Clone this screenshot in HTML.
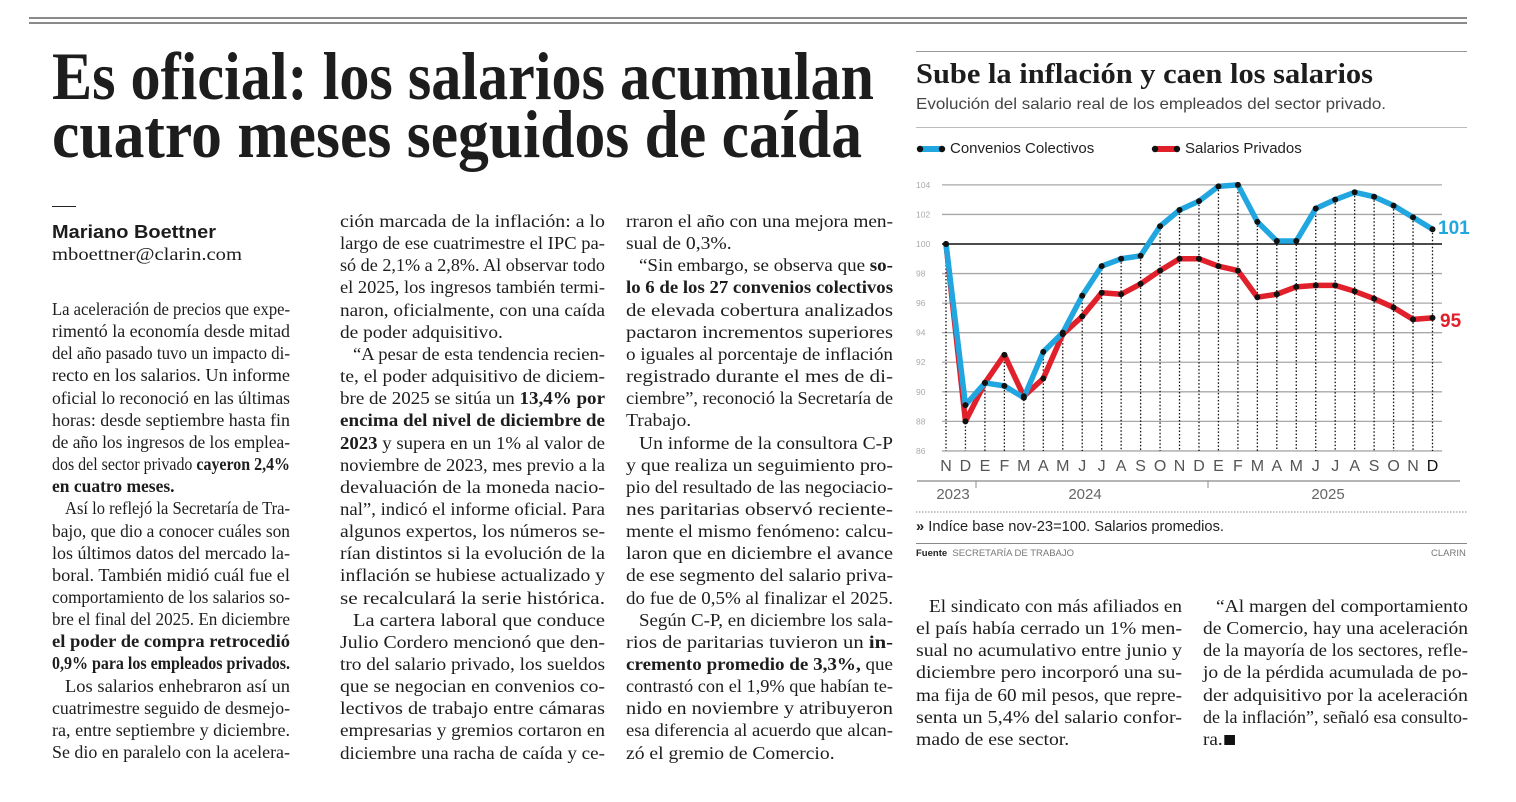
<!DOCTYPE html>
<html><head><meta charset="utf-8"><style>
html,body{margin:0;padding:0;background:#fff;}
body{width:1516px;height:802px;position:relative;overflow:hidden;font-family:"Liberation Serif",serif;color:#1d1d1d;}
.ab{position:absolute;white-space:nowrap;transform-origin:0 0;}
.l{position:absolute;white-space:nowrap;transform-origin:0 0;font-size:18px;line-height:22px;}
.l span{display:inline-block;}
.sans{font-family:"Liberation Sans",sans-serif;}
</style></head><body>
<div class="ab" style="left:29px;top:17px;width:1438px;height:2px;background:#8a8a8a"></div>
<div class="ab" style="left:29px;top:22px;width:1438px;height:2px;background:#8a8a8a"></div>

<div class="ab fit" style="left:52px;top:42px;font-size:68px;line-height:68px;font-weight:bold;--w:822" >Es oficial: los salarios acumulan</div>
<div class="ab fit" style="left:52px;top:100px;font-size:68px;line-height:68px;font-weight:bold;--w:810">cuatro meses seguidos de caída</div>

<div class="ab" style="left:52px;top:206px;width:24px;height:1px;background:#222"></div>
<div class="ab sans fit" style="left:52px;top:221px;font-size:18px;line-height:22px;font-weight:bold;--w:164">Mariano Boettner</div>
<div class="ab fit" style="left:52px;top:243px;font-size:18px;line-height:22px;--w:190">mboettner@clarin.com</div>

<!-- chart texts -->
<div class="ab" style="left:916px;top:51px;width:551px;height:1px;background:#999"></div>
<div class="ab fit" style="left:916px;top:60px;font-size:28px;line-height:30px;font-weight:bold;--w:457">Sube la inflación y caen los salarios</div>
<div class="ab sans fit" style="left:916px;top:95px;font-size:16px;line-height:20px;color:#444;--w:470">Evolución del salario real de los empleados del sector privado.</div>
<div class="ab" style="left:916px;top:127px;width:551px;height:1px;background:#bbb"></div>
<div class="ab sans" style="left:950px;top:140px;font-size:15px;line-height:18px;color:#222">Convenios Colectivos</div>
<div class="ab sans" style="left:1185px;top:140px;font-size:15px;line-height:18px;color:#222">Salarios Privados</div>
<div class="ab sans fit" style="left:916px;top:518px;font-size:15px;line-height:18px;color:#222;--w:308"><b>»</b> Indíce base nov-23=100. Salarios promedios.</div>
<div class="ab" style="left:916px;top:543px;width:551px;height:1px;background:#888"></div>
<div class="ab sans" style="left:916px;top:548px;font-size:9.5px;line-height:12px;color:#777"><b style="color:#222">Fuente</b>&nbsp; SECRETARÍA DE TRABAJO</div>
<div class="ab sans" style="left:1431px;top:548px;font-size:9.5px;line-height:12px;color:#777">CLARIN</div>

<svg id="ch" class="ab" style="left:0;top:0" width="1516" height="802" xmlns="http://www.w3.org/2000/svg"></svg>

<div id="cols"></div>

<script>
(function(){
var s=document.getElementById('ch'),h='';
function Y(v){return 244-(v-100)*14.78;}
function X(i){return 946+i*19.46;}
for(var v=86;v<=104;v+=2){
 var y=Y(v);
 h+='<line x1="942" x2="1442" y1="'+y+'" y2="'+y+'" stroke="'+(v==100?'#111':'#a8a8a8')+'" stroke-width="'+(v==100?1.6:1.3)+'"/>';
 h+='<text x="916" y="'+(y+3)+'" font-family="Liberation Sans" font-size="8.5" fill="#aaa">'+v+'</text>';
}
var B=[100,89.1,90.6,90.4,89.6,92.7,94.0,96.5,98.5,99.0,99.2,101.2,102.3,102.9,103.9,104.0,101.5,100.2,100.2,102.4,103.0,103.5,103.2,102.6,101.8,101.0];
var R=[100,88.0,90.6,92.5,89.7,90.9,93.9,95.1,96.7,96.6,97.3,98.2,99.0,99.0,98.5,98.2,96.4,96.6,97.1,97.2,97.2,96.8,96.3,95.7,94.9,95.0];
var M="NDEFMAMJJASONDEFMAMJJASOND";
for(var i=0;i<26;i++){
 var top=Math.min(Y(B[i]),Y(R[i]));
 h+='<line x1="'+X(i)+'" x2="'+X(i)+'" y1="'+top+'" y2="451" stroke="#111" stroke-width="1.3" stroke-dasharray="1.5,2"/>';
 h+='<text x="'+X(i)+'" y="471" text-anchor="middle" font-family="Liberation Sans" font-size="16" fill="'+(i==25?'#111':'#555')+'">'+M[i]+'</text>';
}
function pl(a,c){var p='';for(var i=0;i<a.length;i++)p+=X(i)+','+Y(a[i])+' ';return '<polyline points="'+p+'" fill="none" stroke="'+c+'" stroke-width="5.5" stroke-linejoin="round"/>';}
h+=pl(R,'#e0202b');h+=pl(B,'#21a6e0');
for(var i=0;i<26;i++){h+='<circle cx="'+X(i)+'" cy="'+Y(R[i])+'" r="3" fill="#111"/><circle cx="'+X(i)+'" cy="'+Y(B[i])+'" r="3" fill="#111"/>';}
h+='<text x="1438" y="234" font-family="Liberation Sans" font-size="19" font-weight="bold" fill="#21a6e0">101</text>';
h+='<text x="1440" y="327" font-family="Liberation Sans" font-size="19" font-weight="bold" fill="#e0202b">95</text>';
h+='<line x1="917" x2="1460" y1="481" y2="481" stroke="#888" stroke-width="1.3"/>';
h+='<line x1="976" x2="976" y1="481" y2="488" stroke="#888"/><line x1="1208" x2="1208" y1="481" y2="488" stroke="#888"/>';
h+='<text x="953" y="499" text-anchor="middle" font-family="Liberation Sans" font-size="15" fill="#666">2023</text>';
h+='<text x="1085" y="499" text-anchor="middle" font-family="Liberation Sans" font-size="15" fill="#666">2024</text>';
h+='<text x="1328" y="499" text-anchor="middle" font-family="Liberation Sans" font-size="15" fill="#666">2025</text>';
h+='<line x1="916" x2="1467" y1="512" y2="512" stroke="#888" stroke-dasharray="1.5,1.5"/>';
h+='<line x1="920" x2="942" y1="149" y2="149" stroke="#21a6e0" stroke-width="6"/><circle cx="920" cy="149" r="3.2" fill="#111"/><circle cx="942" cy="149" r="3.2" fill="#111"/>';
h+='<line x1="1155" x2="1177" y1="149" y2="149" stroke="#e0202b" stroke-width="6"/><circle cx="1155" cy="149" r="3.2" fill="#111"/><circle cx="1177" cy="149" r="3.2" fill="#111"/>';
s.innerHTML=h;

var cols=[
{x:52,w:238,y:298,L:[
"La aceleración de precios que expe-","rimentó la economía desde mitad","del año pasado tuvo un impacto di-","recto en los salarios. Un informe","oficial lo reconoció en las últimas","horas: desde septiembre hasta fin","de año los ingresos de los emplea-","dos del sector privado <b>cayeron 2,4%</b>","<b>en cuatro meses.</b>|",
">Así lo reflejó la Secretaría de Tra-","bajo, que dio a conocer cuáles son","los últimos datos del mercado la-","boral. También midió cuál fue el","comportamiento de los salarios so-","bre el final del 2025. En diciembre","<b>el poder de compra retrocedió</b>","<b>0,9% para los empleados privados.</b>",
">Los salarios enhebraron así un","cuatrimestre seguido de desmejo-","ra, entre septiembre y diciembre.","Se dio en paralelo con la acelera-"]},
{x:340,w:265,y:210,L:[
"ción marcada de la inflación: a lo","largo de ese cuatrimestre el IPC pa-","só de 2,1% a 2,8%. Al observar todo","el 2025, los ingresos también termi-","naron, oficialmente, con una caída","de poder adquisitivo.|",
">“A pesar de esta tendencia recien-","te, el poder adquisitivo de diciem-","bre de 2025 se sitúa un <b>13,4% por</b>","<b>encima del nivel de diciembre de</b>","<b>2023</b> y supera en un 1% al valor de","noviembre de 2023, mes previo a la","devaluación de la moneda nacio-","nal”, indicó el informe oficial. Para","algunos expertos, los números se-","rían distintos si la evolución de la","inflación se hubiese actualizado y","se recalculará la serie histórica.",
">La cartera laboral que conduce","Julio Cordero mencionó que den-","tro del salario privado, los sueldos","que se negocian en convenios co-","lectivos de trabajo entre cámaras","empresarias y gremios cortaron en","diciembre una racha de caída y ce-"]},
{x:626,w:267,y:210,L:[
"rraron el año con una mejora men-","sual de 0,3%.|",
">“Sin embargo, se observa que <b>so-</b>","<b>lo 6 de los 27 convenios colectivos</b>","de elevada cobertura analizados","pactaron incrementos superiores","o iguales al porcentaje de inflación","registrado durante el mes de di-","ciembre”, reconoció la Secretaría de","Trabajo.|",
">Un informe de la consultora C-P","y que realiza un seguimiento pro-","pio del resultado de las negociacio-","nes paritarias observó reciente-","mente el mismo fenómeno: calcu-","laron que en diciembre el avance","de ese segmento del salario priva-","do fue de 0,5% al finalizar el 2025.",
">Según C-P, en diciembre los sala-","rios de paritarias tuvieron un <b>in-</b>","<b>cremento promedio de 3,3%,</b> que","contrastó con el 1,9% que habían te-","nido en noviembre y atribuyeron","esa diferencia al acuerdo que alcan-","zó el gremio de Comercio.|"]},
{x:916,w:266,y:595,L:[
">El sindicato con más afiliados en","el país había cerrado un 1% men-","sual no acumulativo entre junio y","diciembre pero incorporó una su-","ma fija de 60 mil pesos, que repre-","senta un 5,4% del salario confor-","mado de ese sector.|"]},
{x:1203,w:265,y:595,L:[
">“Al margen del comportamiento","de Comercio, hay una aceleración","de la mayoría de los sectores, refle-","jo de la pérdida acumulada de po-","der adquisitivo por la aceleración","de la inflación”, señaló esa consulto-","ra.<span style=\"display:inline-block;width:10px;height:10px;background:#111;margin-left:2px\"></span>|"]}
];
var C=document.getElementById('cols');
cols.forEach(function(c){
 var items=[];
 c.L.forEach(function(t,k){
  var ind=0,sh=false;
  if(t[0]=='>'){ind=13;t=t.slice(1);}
  if(t.slice(-1)=='|'){sh=true;t=t.slice(0,-1);}
  var d=document.createElement('div');d.className='l';
  d.style.left=(c.x+ind)+'px';d.style.top=(c.y+k*22.15)+'px';
  d.innerHTML='<span>'+t+'</span>';C.appendChild(d);
  items.push({d:d,w:c.w-ind,sh:sh});
 });
 var sum=0,n=0;
 items.forEach(function(it){it.n=it.d.firstChild.getBoundingClientRect().width;if(!it.sh){it.s=it.w/it.n;sum+=it.s;n++;}});
 var avg=n?sum/n:0.84;
 items.forEach(function(it){var sc=it.sh?avg:it.s;it.d.style.transform='scaleX('+sc+')';});
});
document.querySelectorAll('.fit').forEach(function(e){
 var w=parseFloat(getComputedStyle(e).getPropertyValue('--w'));
 var n=e.getBoundingClientRect().width;e.style.transform='scaleX('+(w/n)+')';
});
})();
</script>
</body></html>
